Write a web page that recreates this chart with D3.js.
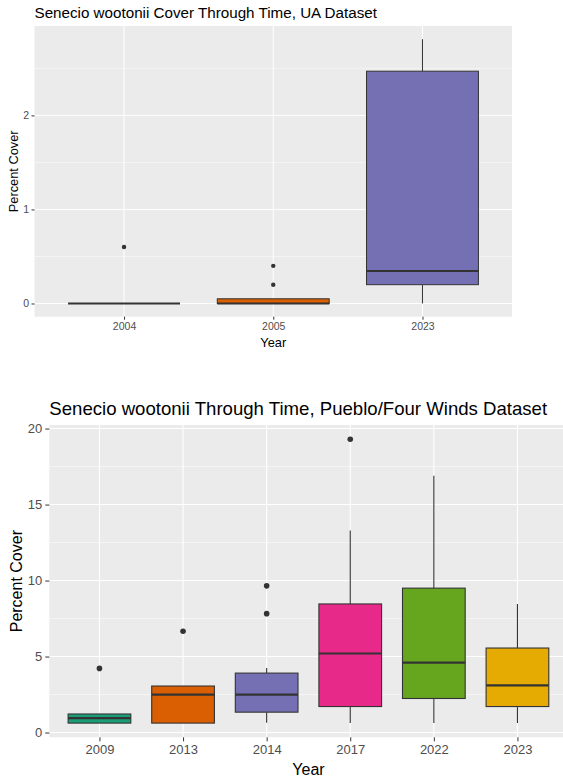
<!DOCTYPE html>
<html>
<head>
<meta charset="utf-8">
<script src="https://cdn.jsdelivr.net/npm/d3@7"></script>
<style>
  html, body { margin: 0; padding: 0; background: #fff; }
  svg { display: block; }
  text { font-family: "Liberation Sans", Arial, sans-serif; }
</style>
</head>
<body>
<svg id="chart" width="563" height="779"></svg>
<script>
// ---- UA dataset (box summaries per survey year) ----
const uaYears    = ["2004", "2005", "2023"];
const uaLower    = [0, 0, 0];
const uaQ1       = [0, 0, 0.2];
const uaMedian   = [0, 0, 0.345];
const uaQ3       = [0, 0.05, 2.47];
const uaUpper    = [0, 0.05, 2.81];
const uaOutliers = [[0.6], [0.2, 0.4], []];
const uaTicks    = [0, 1, 2];
const uaMinor    = [0.5, 1.5, 2.5];

// ---- Pueblo / Four Winds dataset ----
const pfYears    = ["2009", "2013", "2014", "2017", "2022", "2023"];
const pfLower    = [0.62, 0.62, 0.64, 0.62, 0.62, 0.62];
const pfQ1       = [0.62, 0.62, 1.34, 1.71, 2.24, 1.71];
const pfMedian   = [0.95, 2.5, 2.5, 5.2, 4.6, 3.1];
const pfQ3       = [1.22, 3.06, 3.91, 8.46, 9.5, 5.56];
const pfUpper    = [1.22, 3.06, 4.24, 13.3, 16.9, 8.46];
const pfOutliers = [[4.22], [6.66], [7.82, 9.65], [19.3], [], []];
const pfTicks    = [0, 5, 10, 15, 20];
const pfMinor    = [2.5, 7.5, 12.5, 17.5];

// Dark2 palette, in year order
const dark2 = ["#1B9E77", "#D95F02", "#7570B3", "#E7298A", "#66A61E", "#E6AB02"];

const svg = d3.select("#chart");

function boxPanel(cfg) {
  const g = svg.append("g");
  const n = cfg.years.length;
  const rows = cfg.years.map((y, i) => ({
    year: y, lo: cfg.lower[i], q1: cfg.q1[i], med: cfg.median[i],
    q3: cfg.q3[i], hi: cfg.upper[i], out: cfg.outliers[i], color: dark2[i]
  }));

  // continuous y with 5% expansion on each side
  const all = rows.flatMap(r => [r.lo, r.hi, ...r.out]);
  const lo = d3.min(all), hi = d3.max(all), pad = (hi - lo) * 0.05;
  const y = d3.scaleLinear().domain([lo - pad, hi + pad]).range([cfg.bottom, cfg.top]);

  // discrete x with 0.6 units of padding on each side
  const step = (cfg.right - cfg.left) / (n - 1 + 1.2);
  const x = d3.scalePoint().domain(cfg.years)
    .range([cfg.left + 0.6 * step, cfg.right - 0.6 * step]);
  const bw = step * 0.75;

  // panel background and grid
  g.append("rect").attr("x", cfg.left).attr("y", cfg.top)
    .attr("width", cfg.right - cfg.left).attr("height", cfg.bottom - cfg.top)
    .attr("fill", "#EBEBEB");
  g.selectAll(".minor").data(cfg.minor).join("line")
    .attr("x1", cfg.left).attr("x2", cfg.right)
    .attr("y1", d => y(d)).attr("y2", d => y(d))
    .attr("stroke", "#fff").attr("stroke-width", cfg.minorW);
  g.selectAll(".majorY").data(cfg.ticks).join("line")
    .attr("x1", cfg.left).attr("x2", cfg.right)
    .attr("y1", d => y(d)).attr("y2", d => y(d))
    .attr("stroke", "#fff").attr("stroke-width", cfg.majorW);
  g.selectAll(".majorX").data(cfg.years).join("line")
    .attr("x1", d => x(d)).attr("x2", d => x(d))
    .attr("y1", cfg.top).attr("y2", cfg.bottom)
    .attr("stroke", "#fff").attr("stroke-width", cfg.majorW);

  // boxes, whiskers, medians and outliers
  const b = g.selectAll(".box").data(rows).join("g");
  b.append("line")
    .attr("x1", d => x(d.year)).attr("x2", d => x(d.year))
    .attr("y1", d => y(d.q3)).attr("y2", d => y(d.hi))
    .attr("stroke", "#333").attr("stroke-width", cfg.lineW);
  b.append("line")
    .attr("x1", d => x(d.year)).attr("x2", d => x(d.year))
    .attr("y1", d => y(d.q1)).attr("y2", d => y(d.lo))
    .attr("stroke", "#333").attr("stroke-width", cfg.lineW);
  b.append("rect")
    .attr("x", d => x(d.year) - bw / 2).attr("width", bw)
    .attr("y", d => y(d.q3)).attr("height", d => y(d.q1) - y(d.q3))
    .attr("fill", d => d.color).attr("stroke", "#333").attr("stroke-width", cfg.lineW);
  b.append("line")
    .attr("x1", d => x(d.year) - bw / 2).attr("x2", d => x(d.year) + bw / 2)
    .attr("y1", d => y(d.med)).attr("y2", d => y(d.med))
    .attr("stroke", "#333").attr("stroke-width", cfg.medW);
  b.selectAll("circle").data(d => d.out.map(v => ({ year: d.year, v }))).join("circle")
    .attr("cx", d => x(d.year)).attr("cy", d => y(d.v)).attr("r", cfg.pointR)
    .attr("fill", "#333");

  // y axis
  const ya = g.append("g").attr("transform", `translate(${cfg.left},0)`)
    .call(d3.axisLeft(y).tickValues(cfg.ticks).tickFormat(d3.format("d"))
      .tickSize(cfg.tickLen).tickPadding(cfg.tickPad));
  ya.select(".domain").remove();
  ya.selectAll("line").attr("stroke", "#333");
  ya.selectAll("text").attr("fill", "#4D4D4D").attr("font-size", cfg.tickFont)
    .attr("font-family", "Liberation Sans, Arial, sans-serif");

  // x axis
  const xa = g.append("g").attr("transform", `translate(0,${cfg.bottom})`)
    .call(d3.axisBottom(x).tickSize(cfg.tickLen).tickPadding(cfg.tickPad));
  xa.select(".domain").remove();
  xa.selectAll("line").attr("stroke", "#333");
  xa.selectAll("text").attr("fill", "#4D4D4D").attr("font-size", cfg.tickFont)
    .attr("font-family", "Liberation Sans, Arial, sans-serif");

  // titles
  g.append("text").attr("x", cfg.left).attr("y", cfg.titleY)
    .attr("font-size", cfg.titleFont).attr("fill", "#000").text(cfg.title);
  g.append("text").attr("x", (cfg.left + cfg.right) / 2).attr("y", cfg.xLabY)
    .attr("text-anchor", "middle").attr("font-size", cfg.labFont).attr("fill", "#000")
    .text("Year");
  g.append("text")
    .attr("transform", `translate(${cfg.yLabX},${(cfg.top + cfg.bottom) / 2}) rotate(-90)`)
    .attr("text-anchor", "middle").attr("font-size", cfg.labFont).attr("fill", "#000")
    .text("Percent Cover");
}

boxPanel({
  years: uaYears, lower: uaLower, q1: uaQ1, median: uaMedian, q3: uaQ3,
  upper: uaUpper, outliers: uaOutliers, ticks: uaTicks, minor: uaMinor,
  left: 34.5, right: 512, top: 26, bottom: 316.7,
  title: "Senecio wootonii Cover Through Time, UA Dataset",
  titleY: 18.3, titleFont: 15.2, xLabY: 347, yLabX: 17.5, labFont: 12.8,
  tickFont: 10.5, tickLen: 3, tickPad: 2.5,
  lineW: 1, medW: 2, pointR: 2.2, majorW: 1, minorW: 0.5
});

boxPanel({
  years: pfYears, lower: pfLower, q1: pfQ1, median: pfMedian, q3: pfQ3,
  upper: pfUpper, outliers: pfOutliers, ticks: pfTicks, minor: pfMinor,
  left: 49.3, right: 567.6, top: 425, bottom: 737.3,
  title: "Senecio wootonii Through Time, Pueblo/Four Winds Dataset",
  titleY: 415, titleFont: 18.6, xLabY: 775, yLabX: 22, labFont: 16,
  tickFont: 13, tickLen: 4, tickPad: 3,
  lineW: 1.1, medW: 2.2, pointR: 2.8, majorW: 1.1, minorW: 0.55
});
</script>
</body>
</html>
